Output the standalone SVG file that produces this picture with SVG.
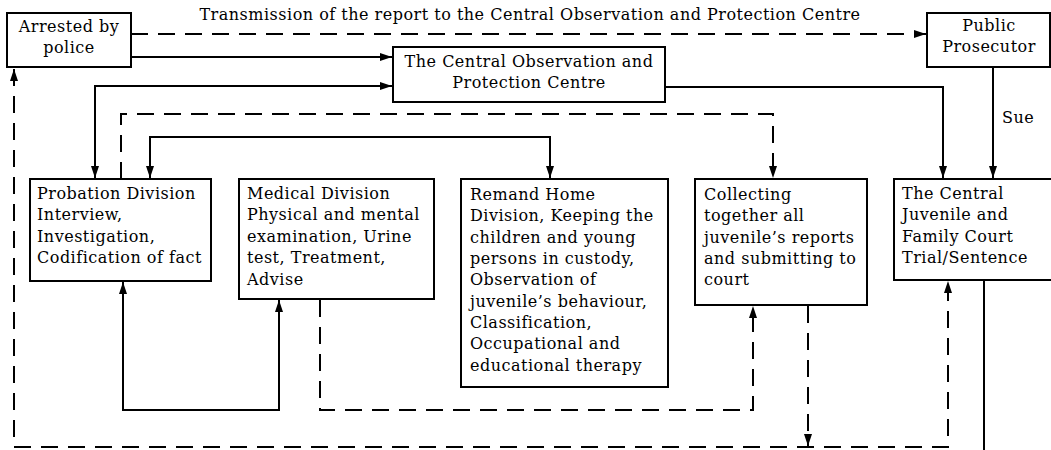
<svg xmlns="http://www.w3.org/2000/svg" width="1051" height="450" viewBox="0 0 1051 450">
  <style>
    .box { fill: #fff; stroke: #000; stroke-width: 2; }
    .t { font-family: "DejaVu Serif", "Liberation Serif", serif; font-size: 16px; letter-spacing: 0.5px; fill: #000; }
    .c { text-anchor: middle; }
    .ln { fill: none; stroke: #000; stroke-width: 2; }
    .dash { stroke-dasharray: 17 10; }
  </style>
  <defs>
    <marker id="arrow" viewBox="0 0 12 8" refX="12" refY="4" markerWidth="12" markerHeight="8" markerUnits="userSpaceOnUse" orient="auto-start-reverse">
      <path d="M0,0 L12,4 L0,8 z" fill="#000"/>
    </marker>
  </defs>
  <rect width="1051" height="450" fill="#fff"/>

  <text class="t" x="530" y="20" text-anchor="middle">Transmission of the report to the Central Observation and Protection Centre</text>
  <text class="t" x="1002" y="123">Sue</text>

  <g id="connectors">
    <path class="ln dash" d="M131,34 H926" marker-end="url(#arrow)"/>
    <path class="ln" d="M131,57 H392" marker-end="url(#arrow)"/>
    <path class="ln" d="M95,178 V86 H392" marker-start="url(#arrow)" marker-end="url(#arrow)"/>
    <path class="ln dash" d="M121,179 V114 H773 V178" marker-end="url(#arrow)"/>
    <path class="ln" d="M150,178 V137 H550 V178" marker-start="url(#arrow)" marker-end="url(#arrow)"/>
    <path class="ln" d="M665,87 H943 V178" marker-end="url(#arrow)"/>
    <path class="ln" d="M993,67 V178" marker-end="url(#arrow)"/>
    <path class="ln" d="M123,282 V410 H279 V300" marker-start="url(#arrow)" marker-end="url(#arrow)"/>
    <path class="ln dash" d="M320,300 V410 H753 V306" marker-end="url(#arrow)"/>
    <path class="ln dash" d="M808,306 V446" marker-end="url(#arrow)"/>
    <path class="ln dash" d="M14,69 V447 H948 V281" marker-start="url(#arrow)" marker-end="url(#arrow)"/>
    <path class="ln" d="M984,280 V450"/>
  </g>

  <g id="arrested">
    <rect class="box" x="7" y="13" width="124" height="54"/>
    <text class="t c" x="69" y="32">Arrested by</text>
    <text class="t c" x="69" y="53">police</text>
  </g>

  <g id="prosecutor">
    <rect class="box" x="927" y="13" width="123" height="54"/>
    <text class="t c" x="989" y="31">Public</text>
    <text class="t c" x="989" y="52">Prosecutor</text>
  </g>

  <g id="central-centre">
    <rect class="box" x="393" y="47" width="272" height="55"/>
    <text class="t c" x="529" y="67">The Central Observation and</text>
    <text class="t c" x="529" y="88">Protection Centre</text>
  </g>

  <g id="probation">
    <rect class="box" x="30" y="179" width="181" height="102"/>
    <text class="t" x="37" y="199">Probation Division</text>
    <text class="t" x="37" y="220">Interview,</text>
    <text class="t" x="37" y="242">Investigation,</text>
    <text class="t" x="37" y="263">Codification of fact</text>
  </g>

  <g id="medical">
    <rect class="box" x="239" y="179" width="195" height="120"/>
    <text class="t" x="247" y="199">Medical Division</text>
    <text class="t" x="247" y="220">Physical and mental</text>
    <text class="t" x="247" y="242">examination, Urine</text>
    <text class="t" x="247" y="263">test, Treatment,</text>
    <text class="t" x="247" y="285">Advise</text>
  </g>

  <g id="remand">
    <rect class="box" x="461" y="179" width="207" height="208"/>
    <text class="t" x="470" y="200">Remand Home</text>
    <text class="t" x="470" y="221">Division, Keeping the</text>
    <text class="t" x="470" y="243">children and young</text>
    <text class="t" x="470" y="264">persons in custody,</text>
    <text class="t" x="470" y="285">Observation of</text>
    <text class="t" x="470" y="307">juvenile’s behaviour,</text>
    <text class="t" x="470" y="328">Classification,</text>
    <text class="t" x="470" y="349">Occupational and</text>
    <text class="t" x="470" y="371">educational therapy</text>
  </g>

  <g id="collecting">
    <rect class="box" x="695" y="179" width="172" height="126"/>
    <text class="t" x="704" y="200">Collecting</text>
    <text class="t" x="704" y="221">together all</text>
    <text class="t" x="704" y="243">juvenile’s reports</text>
    <text class="t" x="704" y="264">and submitting to</text>
    <text class="t" x="704" y="285">court</text>
  </g>

  <g id="court">
    <rect class="box" x="894" y="179" width="158" height="101"/>
    <text class="t" x="902" y="199">The Central</text>
    <text class="t" x="902" y="220">Juvenile and</text>
    <text class="t" x="902" y="242">Family Court</text>
    <text class="t" x="902" y="263">Trial/Sentence</text>
  </g>
</svg>
